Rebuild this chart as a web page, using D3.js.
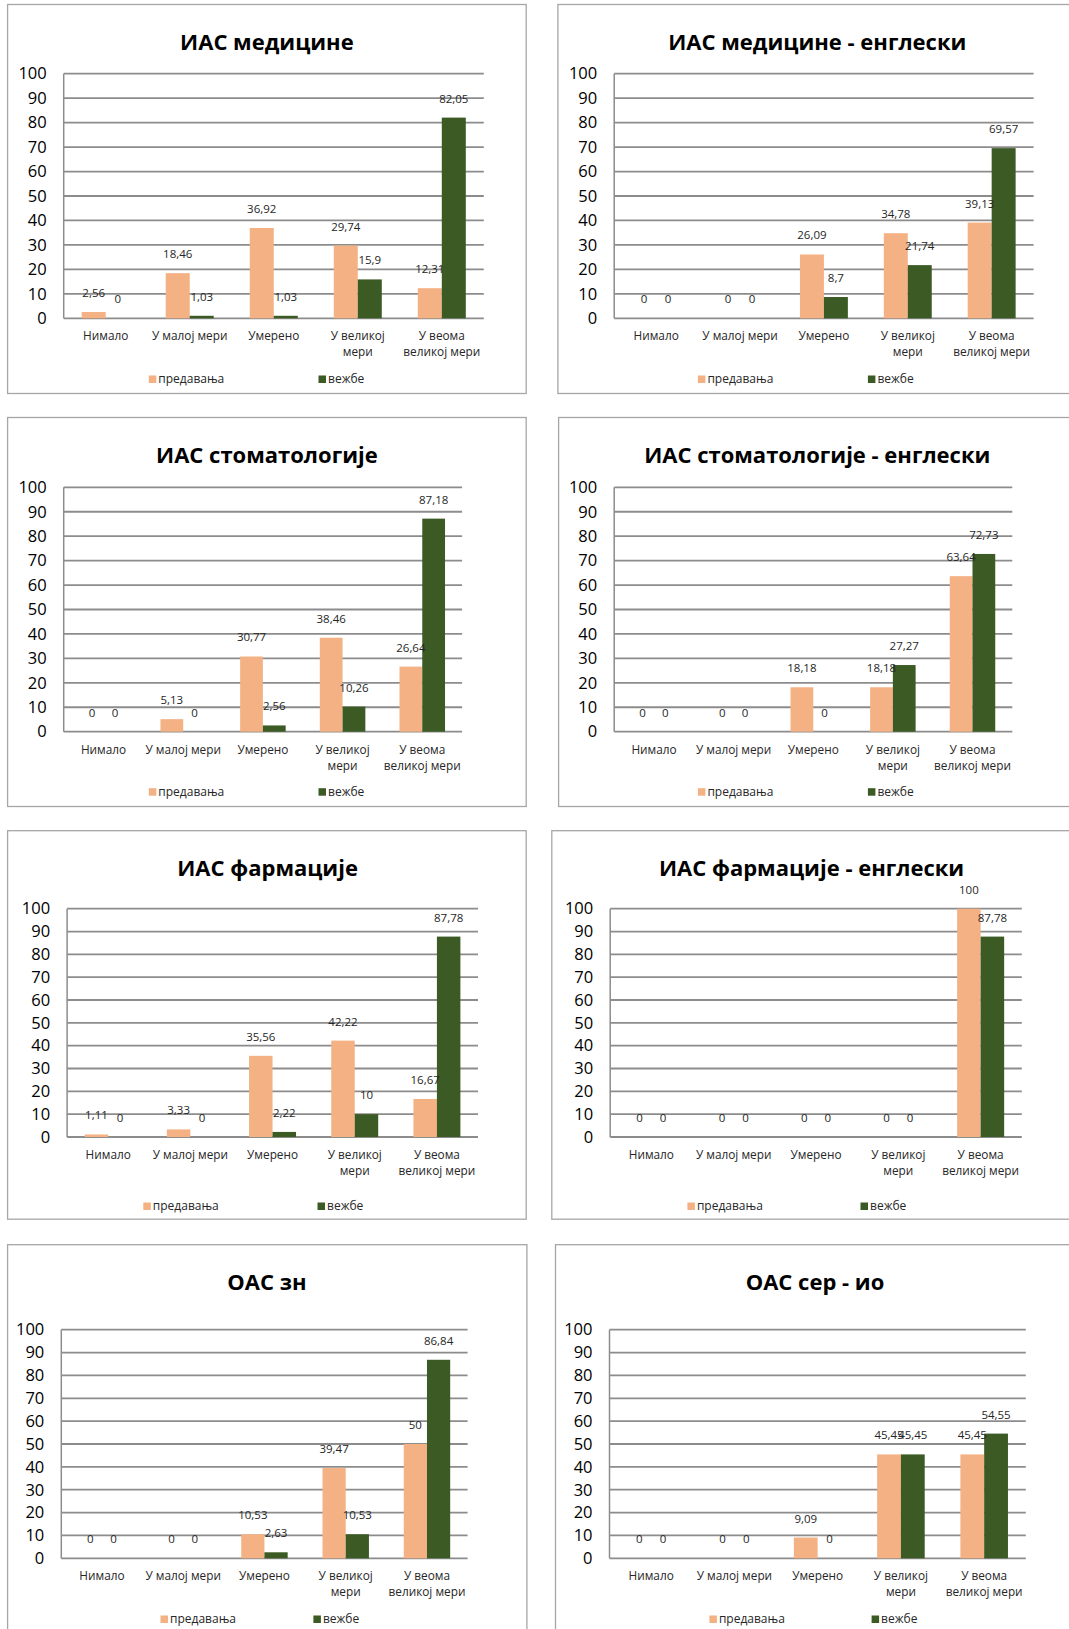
<!DOCTYPE html>
<html>
<head>
<meta charset="utf-8">
<script src="https://cdn.jsdelivr.net/npm/d3@7"></script>
<style>
  html, body { margin: 0; padding: 0; background: #fff; }
  svg { display: block; }
  text { font-family: "Open Sans", "Noto Sans", sans-serif; }
</style>
</head>
<body>
<svg id="chart" width="1069" height="1629"></svg>
<script>
// ---------- DATA ----------
const categories = ["Нимало", "У малој мери", "Умерено", "У великој мери", "У веома великој мери"];
const categoryLines = [["Нимало"], ["У малој мери"], ["Умерено"], ["У великој", "мери"], ["У веома", "великој мери"]];
const seriesNames = ["предавања", "вежбе"];
const yTicks = [0, 10, 20, 30, 40, 50, 60, 70, 80, 90, 100];

const titles = [
  "ИАС медицине", "ИАС медицине - енглески",
  "ИАС стоматологије", "ИАС стоматологије - енглески",
  "ИАС фармације", "ИАС фармације - енглески",
  "ОАС зн", "ОАС сер - ио"
];

const predavanja = [
  [2.56, 18.46, 36.92, 29.74, 12.31],
  [0, 0, 26.09, 34.78, 39.13],
  [0, 5.13, 30.77, 38.46, 26.64],
  [0, 0, 18.18, 18.18, 63.64],
  [1.11, 3.33, 35.56, 42.22, 16.67],
  [0, 0, 0, 0, 100],
  [0, 0, 10.53, 39.47, 50],
  [0, 0, 9.09, 45.45, 45.45]
];
const vezbe = [
  [0, 1.03, 1.03, 15.9, 82.05],
  [0, 0, 8.7, 21.74, 69.57],
  [0, 0, 2.56, 10.26, 87.18],
  [0, 0, 0, 27.27, 72.73],
  [0, 0, 2.22, 10, 87.78],
  [0, 0, 0, 0, 87.78],
  [0, 0, 2.63, 10.53, 86.84],
  [0, 0, 0, 45.45, 54.55]
];

// ---------- LAYOUT (positions / styles only) ----------
const layout = [
  {box:[7.6,4.5,518.6,389],   plot:[63.7,483.8,73.7,318.3],    tx:266.9, legY:379,   legX:[148.8,318.5]},
  {box:[557.9,4.5,540,389],   plot:[614.2,1033.6,73.7,318.3],  tx:817.3, legY:379,   legX:[697.9,867.9]},
  {box:[7.6,417.5,518.6,389], plot:[63.7,462.1,487.3,731.7],   tx:266.9, legY:791.7, legX:[148.8,318.5]},
  {box:[558.6,417.5,540,389], plot:[614.2,1012.3,487.3,731.7], tx:817.3, legY:791.7, legX:[697.9,867.9]},
  {box:[7.6,830.7,518.6,388.5],plot:[67.1,478,908.7,1137],     tx:267.6, legY:1206,  legX:[143.3,317.5]},
  {box:[551.8,830.7,540,388.5],plot:[610.2,1021.8,908.7,1137], tx:811.6, legY:1206,  legX:[687.4,860.5]},
  {box:[7.6,1244.7,519.3,420], plot:[61.3,467.6,1329.7,1558.3],tx:266.9, legY:1619,  legX:[160.5,313.4]},
  {box:[555.5,1244.7,540,420], plot:[609.5,1025.8,1329.7,1558.3],tx:815, legY:1619,  legX:[709.4,871.6]}
];

const colors = ["#F4B183", "#3B5A24"];
const gridColor = "#8C8C8C";
const fmt = v => String(v).replace(".", ",");

const svg = d3.select("#chart");
svg.append("rect").attr("width", 1069).attr("height", 1629).attr("fill", "#fff");

titles.forEach((title, i) => {
  const L = layout[i];
  const g = svg.append("g");
  const [bx, by, bw, bh] = L.box;
  g.append("rect").attr("x", bx).attr("y", by).attr("width", bw).attr("height", bh)
    .attr("fill", "#fff").attr("stroke", "#A6A6A6").attr("stroke-width", 1.3);

  g.append("text").attr("x", L.tx).attr("y", by + 45)
    .attr("text-anchor", "middle").attr("font-size", 22).attr("font-weight", 700)
    .attr("fill", "#000").text(title);

  const [x0, x1, yTop, yBot] = L.plot;
  const y = d3.scaleLinear().domain([0, 100]).range([yBot, yTop]);
  const x = d3.scaleBand().domain(categories).range([x0, x1]).paddingInner(0).paddingOuter(0);
  const xs = d3.scaleBand().domain(seriesNames).range([0, x.bandwidth()]).paddingInner(0).paddingOuter(0.75);

  // gridlines
  g.append("g").selectAll("line").data(yTicks).join("line")
    .attr("x1", x0).attr("x2", x1)
    .attr("y1", d => y(d)).attr("y2", d => y(d))
    .attr("stroke", gridColor).attr("stroke-width", 1.8);
  // vertical axis line
  g.append("line").attr("x1", x0).attr("x2", x0).attr("y1", y(100)).attr("y2", y(0))
    .attr("stroke", gridColor).attr("stroke-width", 1.5);

  // y axis labels via d3 axis
  const yAxis = d3.axisLeft(y).tickValues(yTicks).tickSize(0).tickPadding(17).tickFormat(d3.format("d"));
  const ya = g.append("g").attr("transform", `translate(${x0},0)`).call(yAxis);
  ya.select(".domain").remove();
  ya.selectAll("text").attr("font-size", 16.5).attr("fill", "#000")
    .attr("font-family", "'Open Sans', sans-serif");

  // bars
  const data = [];
  categories.forEach((c, k) => {
    data.push({c, s: seriesNames[0], v: predavanja[i][k], col: colors[0]});
    data.push({c, s: seriesNames[1], v: vezbe[i][k], col: colors[1]});
  });
  g.append("g").selectAll("rect").data(data).join("rect")
    .attr("x", d => x(d.c) + xs(d.s))
    .attr("width", xs.bandwidth())
    .attr("y", d => y(d.v))
    .attr("height", d => y(0) - y(d.v))
    .attr("fill", d => d.col);

  // data labels
  g.append("g").selectAll("text").data(data).join("text")
    .attr("x", d => x(d.c) + xs(d.s) + xs.bandwidth() / 2)
    .attr("y", d => y(d.v) - 15)
    .attr("text-anchor", "middle").attr("font-size", 11.5).attr("fill", "#262626")
    .text(d => fmt(d.v));

  // category labels
  categories.forEach((c, k) => {
    const t = g.append("text").attr("text-anchor", "middle").attr("font-size", 11.8).attr("fill", "#262626");
    categoryLines[k].forEach((ln, j) => {
      t.append("tspan").attr("x", x(c) + x.bandwidth() / 2).attr("y", yBot + 22 + j * 16).text(ln);
    });
  });

  // legend
  seriesNames.forEach((s, k) => {
    const lx = L.legX[k];
    g.append("rect").attr("x", lx).attr("y", L.legY - 3.5).attr("width", 7.5).attr("height", 7.5).attr("fill", colors[k]);
    g.append("text").attr("x", lx + 9.5).attr("y", L.legY + 4.3).attr("font-size", 12).attr("fill", "#262626").text(s);
  });
});
</script>
</body>
</html>
